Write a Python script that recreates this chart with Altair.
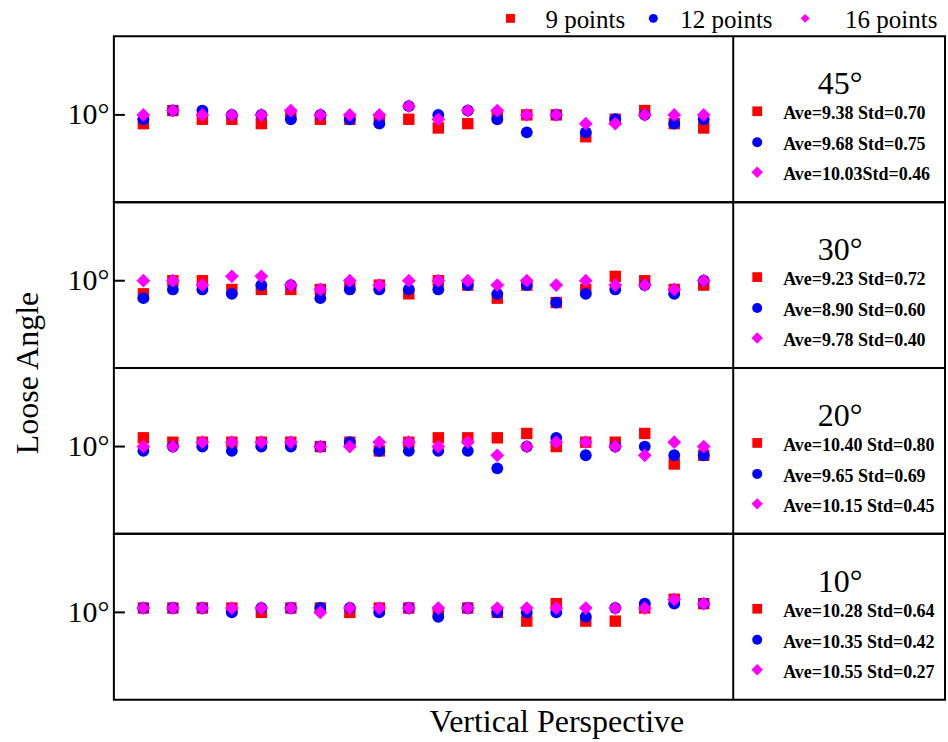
import altair as alt
import pandas as pd

SERIF = "Liberation Serif"

# Panels, top to bottom, and the three point configurations
angles = ["45", "30", "20", "10"]
series = ["9 points", "12 points", "16 points"]
colors = ["#ff0000", "#0000ff", "#ff00ff"]
shapes = ["square", "circle", "diamond"]
sizes = [130, 140, 190]

# Sample position along the vertical perspective
sample = list(range(1, 21))

# Measured loose angle (degrees) per sample, one list per series and panel
a45_9 = [9.0, 10.5, 9.5, 9.5, 9.0, 10.0, 9.5, 9.5, 9.5, 9.5, 8.5, 9.0, 10.0, 10.0, 10.0, 7.5, 9.5, 10.5, 9.0, 8.5]
a45_12 = [9.5, 10.5, 10.5, 10.0, 10.0, 9.5, 10.0, 9.5, 9.0, 11.0, 10.0, 10.5, 9.5, 8.0, 10.0, 8.0, 9.5, 10.0, 9.0, 9.5]
a45_16 = [10.0, 10.5, 10.0, 10.0, 10.0, 10.5, 10.0, 10.0, 10.0, 11.0, 9.5, 10.5, 10.5, 10.0, 10.0, 9.0, 9.0, 10.0, 10.0, 10.0]

a30_9 = [8.5, 10.0, 10.0, 9.0, 9.0, 9.0, 9.0, 9.5, 9.5, 8.5, 10.0, 9.5, 8.0, 9.5, 7.5, 9.0, 10.5, 10.0, 9.0, 9.5]
a30_12 = [8.0, 9.0, 9.0, 8.5, 9.5, 9.5, 8.0, 9.0, 9.0, 9.0, 9.0, 9.5, 8.5, 9.5, 7.5, 8.5, 9.0, 9.5, 8.5, 10.0]
a30_16 = [10.0, 10.0, 9.5, 10.5, 10.5, 9.5, 9.0, 10.0, 9.5, 10.0, 10.0, 10.0, 9.5, 10.0, 9.5, 10.0, 9.5, 9.5, 9.0, 10.0]

a20_9 = [11.0, 10.5, 10.5, 10.5, 10.5, 10.5, 10.0, 10.5, 9.5, 10.5, 11.0, 11.0, 11.0, 11.5, 10.0, 10.5, 10.5, 11.5, 8.0, 9.0]
a20_12 = [9.5, 10.0, 10.0, 9.5, 10.0, 10.0, 10.0, 10.5, 9.5, 9.5, 9.5, 9.5, 7.5, 10.0, 11.0, 9.0, 10.0, 10.0, 9.0, 9.0]
a20_16 = [10.0, 10.0, 10.5, 10.5, 10.5, 10.5, 10.0, 10.0, 10.5, 10.5, 10.0, 10.5, 9.0, 10.0, 10.5, 10.5, 10.0, 9.0, 10.5, 10.0]

a10_9 = [10.5, 10.5, 10.5, 10.5, 10.0, 10.5, 10.5, 10.0, 10.5, 10.5, 10.0, 10.5, 10.0, 9.0, 11.0, 9.0, 9.0, 10.5, 11.5, 11.0]
a10_12 = [10.5, 10.5, 10.5, 10.0, 10.5, 10.5, 10.5, 10.5, 10.0, 10.5, 9.5, 10.5, 10.0, 10.0, 10.0, 9.5, 10.5, 11.0, 11.0, 11.0]
a10_16 = [10.5, 10.5, 10.5, 10.5, 10.5, 10.5, 10.0, 10.5, 10.5, 10.5, 10.5, 10.5, 10.5, 10.5, 10.5, 10.5, 10.5, 10.5, 11.5, 11.0]

# Summary statistics shown beside each panel
stats_45 = ["Ave=9.38 Std=0.70", "Ave=9.68 Std=0.75", "Ave=10.03Std=0.46"]
stats_30 = ["Ave=9.23 Std=0.72", "Ave=8.90 Std=0.60", "Ave=9.78 Std=0.40"]
stats_20 = ["Ave=10.40 Std=0.80", "Ave=9.65 Std=0.69", "Ave=10.15 Std=0.45"]
stats_10 = ["Ave=10.28 Std=0.64", "Ave=10.35 Std=0.42", "Ave=10.55 Std=0.27"]

panel_values = {
    "45": [a45_9, a45_12, a45_16],
    "30": [a30_9, a30_12, a30_16],
    "20": [a20_9, a20_12, a20_16],
    "10": [a10_9, a10_12, a10_16],
}
panel_stats = {"45": stats_45, "30": stats_30, "20": stats_20, "10": stats_10}

W_PLOT = 620          # scatter region
W_ALL = 832           # scatter region + statistics box
H = 166
X_MAX = 21 * W_ALL / W_PLOT
STAT_ROWS = [78, 109, 139]


def panel(angle, first, last):
    if last:
        x_axis = alt.Axis(
            title="Vertical Perspective", labels=False, ticks=False, domain=False,
            grid=False, titleFont=SERIF, titleFontSize=32, titleFontWeight="normal",
            titleColor="black", titleX=443, titlePadding=7,
        )
    else:
        x_axis = None
    x_enc = alt.X("sample:Q", scale=alt.Scale(domain=[0, X_MAX], nice=False, zero=False), axis=x_axis)
    y_enc = alt.Y(
        "value:Q",
        scale=alt.Scale(domain=[0, 19], nice=False, zero=False),
        axis=alt.Axis(
            values=[10], labelExpr="datum.value + '°'", ticks=False, domain=False,
            grid=False, title=None, labelFont=SERIF, labelFontSize=30,
            labelColor="black", labelPadding=5,
        ),
    )

    layers = []
    for s, col, shp, sz, vals in zip(series, colors, shapes, sizes, panel_values[angle]):
        df = pd.DataFrame({"sample": sample, "value": vals, "series": s})
        layers.append(
            alt.Chart(df).mark_point(filled=True, opacity=1, color=col, shape=shp, size=sz)
            .encode(x=x_enc, y=y_enc)
        )

    # inward tick at 10 degrees
    layers.append(
        alt.Chart(pd.DataFrame({"value": [10]})).mark_rule(color="black", strokeWidth=2)
        .encode(y="value:Q", x=alt.value(0), x2=alt.value(11))
    )
    # divider between scatter region and statistics box
    layers.append(
        alt.Chart(pd.DataFrame({"sample": [21]})).mark_rule(color="black", strokeWidth=2)
        .encode(x="sample:Q")
    )
    # statistics box
    layers.append(
        alt.Chart(pd.DataFrame({"t": [angle + "°"]}))
        .mark_text(font=SERIF, fontSize=32, align="center", baseline="middle", color="black")
        .encode(text="t:N", x=alt.value(727), y=alt.value(48))
    )
    for i, (s, col, shp, label) in enumerate(zip(series, colors, shapes, panel_stats[angle])):
        layers.append(
            alt.Chart(pd.DataFrame({"series": [s]}))
            .mark_point(filled=True, opacity=1, color=col, shape=shp, size=[95, 100, 130][i])
            .encode(x=alt.value(644), y=alt.value(STAT_ROWS[i] - 3))
        )
        layers.append(
            alt.Chart(pd.DataFrame({"t": [label]}))
            .mark_text(font=SERIF, fontSize=18, fontWeight="bold", align="left",
                       baseline="middle", color="black")
            .encode(text="t:N", x=alt.value(670), y=alt.value(STAT_ROWS[i]))
        )

    if first:
        # legend across the top
        glyph_x = [397, 540, 692]
        text_x = [432, 567, 732]
        for s, col, shp, gx, tx in zip(series, colors, shapes, glyph_x, text_x):
            layers.append(
                alt.Chart(pd.DataFrame({"series": [s]}))
                .mark_point(filled=True, opacity=1, color=col, shape=shp, size=80)
                .encode(x=alt.value(gx), y=alt.value(-18))
            )
            layers.append(
                alt.Chart(pd.DataFrame({"series": [s]}))
                .mark_text(font=SERIF, fontSize=25, align="left", baseline="middle", color="black")
                .encode(text="series:N", x=alt.value(tx), y=alt.value(-16))
            )

    return alt.layer(*layers).properties(width=W_ALL, height=H)


rows = [panel(a, i == 0, i == len(angles) - 1) for i, a in enumerate(angles)]

chart = (
    alt.vconcat(
        *rows,
        spacing=0,
        bounds="flush",
        title=alt.TitleParams(
            "Loose Angle", orient="left", anchor="middle", font=SERIF,
            fontSize=32, fontWeight="normal", color="black", offset=21,
        ),
    )
    .properties(padding={"left": 12, "top": 7, "right": 2, "bottom": 0}, background="white")
    .configure_view(stroke="black", strokeWidth=2)
)

chart.save("out.html", embed_options={"renderer": "svg", "actions": False})
